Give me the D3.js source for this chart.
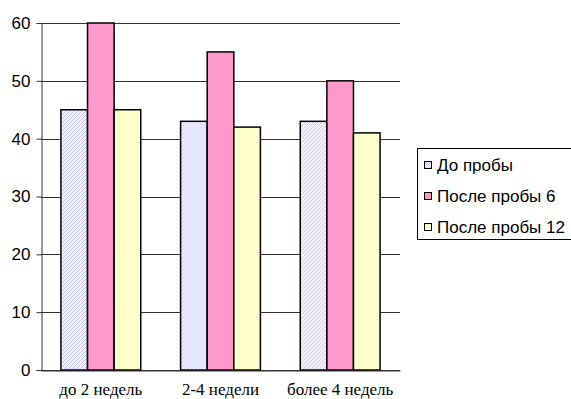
<!DOCTYPE html>
<html>
<head>
<meta charset="utf-8">
<script src="https://cdn.jsdelivr.net/npm/d3@7"></script>
<style>
  html, body { margin: 0; padding: 0; background: #fff; }
  svg { display: block; }
</style>
</head>
<body>
<svg id="chart" width="571" height="399"></svg>
<script>
// Chart data
const categories = ["до 2 недель", "2-4 недели", "более 4 недель"];
const seriesNames = ["До пробы", "После пробы 6", "После пробы 12"];
const beforeTest = [45, 43, 43];
const afterTest6 = [60, 55, 50];
const afterTest12 = [45, 42, 41];
const yTicks = [0, 10, 20, 30, 40, 50, 60];

const seriesValues = [beforeTest, afterTest6, afterTest12];
const fills = ["url(#hatch)", "#FF99CC", "#FFFFCC"];

const svg = d3.select("#chart");
const margin = { left: 41, right: 171, top: 23, bottom: 29 };
const W = 571, H = 399;

// Fine diagonal dotted fill for the first series
const defs = svg.append("defs");
const pat = defs.append("pattern")
  .attr("id", "hatch")
  .attr("patternUnits", "userSpaceOnUse")
  .attr("width", 4).attr("height", 4);
pat.append("rect").attr("width", 4).attr("height", 4).attr("fill", "#ffffff");
[[3, 0], [2, 1], [1, 2], [0, 3]].forEach(([px, py]) => {
  pat.append("rect").attr("x", px).attr("y", py).attr("width", 1).attr("height", 1).attr("fill", "#B8B8FF");
});
[[1, 0], [0, 1], [3, 2], [2, 3]].forEach(([px, py]) => {
  pat.append("rect").attr("x", px).attr("y", py).attr("width", 1).attr("height", 1).attr("fill", "#E4E4FF");
});

const x0 = d3.scaleBand()
  .domain(categories)
  .range([margin.left, W - margin.right])
  .paddingInner(0.333)
  .paddingOuter(0.1665);

const x1 = d3.scaleBand()
  .domain(d3.range(seriesNames.length))
  .range([0, x0.bandwidth()]);

const y = d3.scaleLinear()
  .domain([0, 60])
  .range([H - margin.bottom, margin.top]);

// Gridlines
svg.append("g")
  .selectAll("line")
  .data(yTicks)
  .join("line")
  .attr("x1", margin.left)
  .attr("x2", W - margin.right)
  .attr("y1", d => Math.round(y(d)) + 0.5)
  .attr("y2", d => Math.round(y(d)) + 0.5)
  .attr("stroke", "#333")
  .attr("stroke-width", 1);

// Bars
const groups = svg.append("g")
  .selectAll("g")
  .data(categories)
  .join("g")
  .attr("transform", d => `translate(${x0(d)},0)`);

groups.selectAll("rect")
  .data((c, i) => seriesValues.map((vals, s) => ({ s, v: vals[i] })))
  .join("rect")
  .attr("x", d => x1(d.s))
  .attr("y", d => y(d.v))
  .attr("width", x1.bandwidth())
  .attr("height", d => y(0) - y(d.v))
  .attr("fill", d => fills[d.s])
  .attr("stroke", "#000")
  .attr("stroke-width", 1.5);

// Y axis
const yAxis = d3.axisLeft(y)
  .tickValues(yTicks)
  .tickSize(5)
  .tickPadding(6)
  .tickFormat(d3.format("d"));
const ya = svg.append("g")
  .attr("transform", `translate(${margin.left + 0.5},0)`)
  .call(yAxis);
ya.select(".domain").attr("stroke", "#333");
ya.selectAll(".tick line").attr("stroke", "#333");
ya.selectAll("text")
  .attr("font-family", "'Liberation Sans', Arial, sans-serif")
  .attr("font-size", 17)
  .attr("fill", "#000");

// X axis
const xAxis = d3.axisBottom(x0).tickSize(0).tickPadding(12);
const xa = svg.append("g")
  .attr("transform", `translate(0,${y(0) + 0.5})`)
  .call(xAxis);
xa.select(".domain").attr("stroke", "#333");
xa.selectAll("text")
  .attr("font-family", "'Liberation Serif', 'Times New Roman', serif")
  .attr("font-size", 17)
  .attr("fill", "#000");

// Legend
const legend = svg.append("g");
legend.append("rect")
  .attr("x", 417.5).attr("y", 148.5)
  .attr("width", 160).attr("height", 91)
  .attr("fill", "#fff")
  .attr("stroke", "#000")
  .attr("stroke-width", 1);

const items = legend.selectAll("g.item")
  .data(seriesNames)
  .join("g")
  .attr("class", "item")
  .attr("transform", (d, i) => `translate(424,${165 + i * 31})`);

items.append("rect")
  .attr("x", 0.5).attr("y", -3.5)
  .attr("width", 7).attr("height", 7)
  .attr("fill", (d, i) => fills[i])
  .attr("stroke", "#000")
  .attr("stroke-width", 1);

items.append("text")
  .attr("x", 13)
  .attr("y", 0)
  .attr("dy", "0.35em")
  .attr("font-family", "'Liberation Sans', Arial, sans-serif")
  .attr("font-size", 17)
  .attr("fill", "#000")
  .text(d => d);
</script>
</body>
</html>
